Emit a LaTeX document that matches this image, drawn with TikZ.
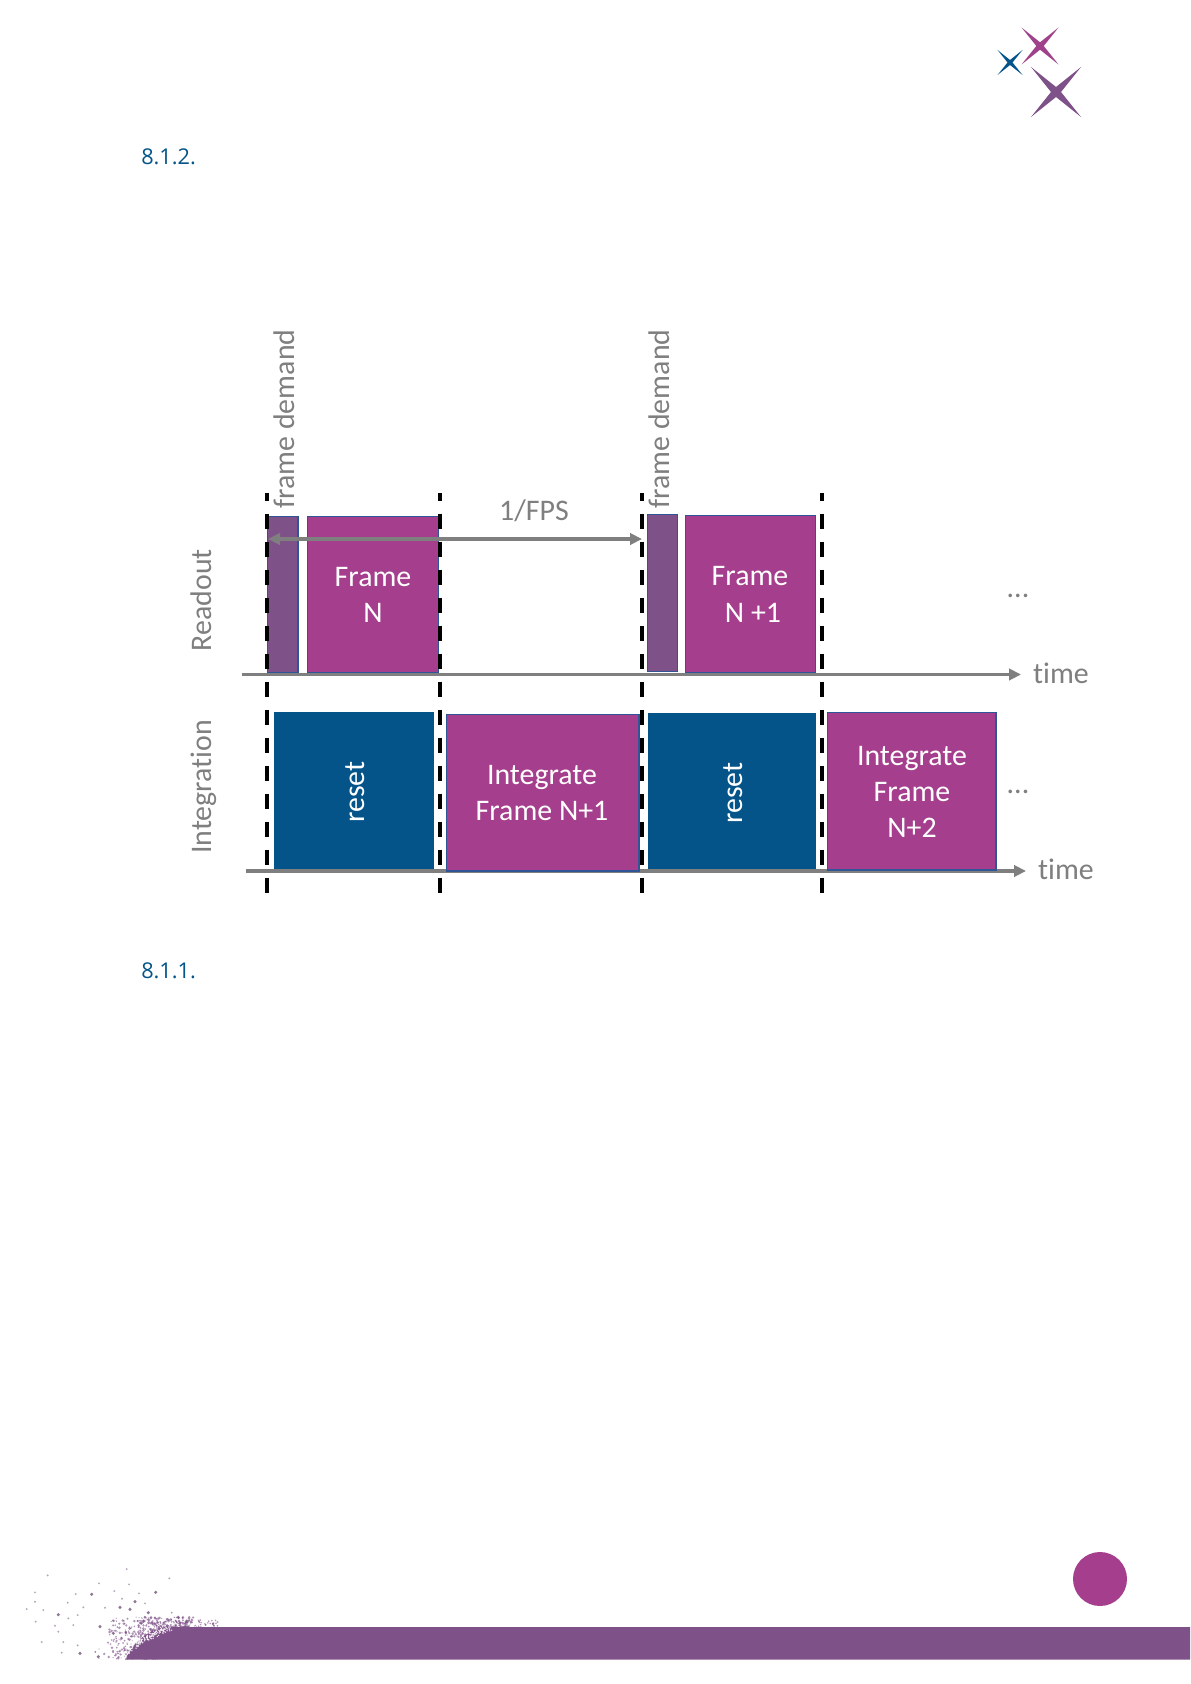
\documentclass[tikz,border=0pt]{standalone}
\usepackage{fontspec}
\setmainfont{Carlito}[Ligatures=CommonOff]
\newfontfamily\headfont{Open Sans}
\usetikzlibrary{arrows.meta}
\definecolor{mag}{HTML}{A53E8C}
\definecolor{plum}{HTML}{7F5189}
\definecolor{navy}{HTML}{04548A}
\definecolor{edgeblue}{HTML}{2F5597}
\definecolor{axisgray}{HTML}{7F7F7F}
\newcommand{\sparkle}[4]{% centre x, y, half extent, colour
  \fill[#4] (#1-#3,#2-#3) -- (#1-0.2*#3,#2) -- (#1-#3,#2+#3) -- (#1,#2+0.2*#3)
    -- (#1+#3,#2+#3) -- (#1+0.2*#3,#2) -- (#1+#3,#2-#3) -- (#1,#2-0.2*#3) -- cycle;}
\tikzset{
  magbox/.style={draw=edgeblue,line width=1pt,fill=mag},
  plumbox/.style={draw=edgeblue,line width=1pt,fill=plum},
  navybox/.style={fill=navy},
  axisline/.style={draw=axisgray,line width=2.6pt,-{Triangle[length=9pt,width=8.5pt]}},
  fpsline/.style={draw=axisgray,line width=2.6pt,{Triangle[length=9pt,width=8.5pt]}-{Triangle[length=9pt,width=8.5pt]}},
  demandline/.style={draw=black,line width=3pt,dash pattern=on 11.7pt off 9.3pt,dash phase=5.5pt},
  boxtext/.style={text=white,font=\fontsize{22.4pt}{27pt}\selectfont,anchor=base},
  graytext/.style={text=axisgray,font=\fontsize{22.4pt}{27pt}\selectfont},
  headtext/.style={text=navy,font=\headfont\fontsize{16.3pt}{20pt}\selectfont,anchor=base west,inner sep=0pt},
}
\begin{document}
\begin{tikzpicture}[x=0.75pt,y=-0.75pt]
\useasboundingbox[fill=white] (0,0) rectangle (1190,1684);
% logo
\sparkle{1040}{46}{18.5}{mag!85!plum}
\sparkle{1010}{62.5}{12.5}{navy}
\sparkle{1056}{92}{25}{plum}
% headings
\node[headtext] (h1) at (141,164.5) {8.1.2.};
\node[headtext] (h2) at (141,978.5) {8.1.1.};
% axes
\coordinate (ax1a) at (241.5,674.5); \coordinate (ax1b) at (1021,674.5);
\coordinate (ax2a) at (246,871); \coordinate (ax2b) at (1026,871);
\draw[axisline] (ax1a) -- (ax1b);
\draw[axisline] (ax2a) -- (ax2b);
% readout boxes
\path[plumbox] (267.7,516.7) rectangle (298,672.3);
\path[magbox] (307.7,516.7) rectangle (438.7,672.3);
\path[plumbox] (647.7,514.5) rectangle (677.7,671.7);
\path[magbox] (685.8,515.3) rectangle (815.3,672.3);
% integration boxes
\path[navybox] (274,712) rectangle (434,869);
\path[magbox] (446.8,714.3) rectangle (639,871);
\path[navybox] (647.7,713) rectangle (816,869);
\path[magbox] (827.8,712.7) rectangle (996,870);
% frame demand lines
\foreach \n/\x in {a/266.8,b/440,c/642,d/822}{
  \coordinate (top\n) at (\x,493);
  \coordinate (bot\n) at (\x,893.3);
  \draw[demandline] (top\n) -- (bot\n);
}
% 1/FPS
\coordinate (fpsa) at (268,539); \coordinate (fpsb) at (642,539);
\draw[fpsline] (fpsa) -- (fpsb);
% box texts
\node[boxtext] (t1a) at (373,586) {Frame};
\node[boxtext] (t1b) at (373,622) {N};
\node[boxtext] (t2a) at (750,585) {Frame};
\node[boxtext] (t2b) at (753,622) {N +1};
\node[boxtext] (t3a) at (542,784) {Integrate};
\node[boxtext] (t3b) at (542,820) {Frame N+1};
\node[boxtext] (t4a) at (912,765) {Integrate};
\node[boxtext] (t4b) at (912,801) {Frame};
\node[boxtext] (t4c) at (912,837) {N+2};
\node[boxtext,rotate=90,anchor=center] (r1) at (355,792) {reset};
\node[boxtext,rotate=90,anchor=center] (r2) at (733,793) {reset};
% grey texts
\node[graytext,rotate=90,anchor=center] (fd1) at (284,419) {frame demand};
\node[graytext,rotate=90,anchor=center] (fd2) at (659,419) {frame demand};
\node[graytext,rotate=90,anchor=center] (ro) at (201,600) {Readout};
\node[graytext,rotate=90,anchor=center] (ig) at (204,787) {Integration};
\node[graytext,anchor=center] (fps) at (534,511) {1/FPS};
\node[graytext,anchor=base] (tm1) at (1061,683) {time};
\node[graytext,anchor=base] (tm2) at (1066,879) {time};
\node[graytext,anchor=base] (el1) at (1018,597) {...};
\node[graytext,anchor=base] (el2) at (1018,793) {...};
% page number disc
\fill[mag] (1100,1579) circle[radius=27];
% spray
\pgfmathsetseed{4242}
\foreach \i in {1,...,650}{
  \pgfmathsetmacro{\py}{1659-42*rnd}
  \pgfmathsetmacro{\px}{90+(1659-\py)*0.45+85*sqrt(rnd)}
  \pgfmathsetmacro{\pr}{0.5+1.0*rnd}
  \fill[plum,opacity=0.6] (\px,\py) circle[radius=\pr];
}
\foreach \i in {1,...,110}{
  \pgfmathsetmacro{\px}{150+68*rnd}
  \pgfmathsetmacro{\py}{1620+8*rnd}
  \fill[plum,opacity=0.6] (\px,\py) circle[radius=0.9];
}
\foreach \a/\b in {275/163,467/157,405/185,175/224,360/202,390/208,445/218,240/340,295/350,535/232,300/260,340/280}{
  \fill[plum!75!black,opacity=0.7] ({\a/3},{1540+\b/3}) circle[radius=1.7];
}
\foreach \a/\b in {143/106,380/87,508/115,297/130,387/133,105/157,105/185,227/162,343/153,417/160,80/207,130/210,203/188,125/306,175/275,185/338,233/316,190/306,107/245,165/257,220/255,233/225,205/235,250/202,315/203,366/176,435/190,515/218}{
  \fill[plum!70!gray,opacity=0.55] ({\a/3},{1540+\b/3}) circle[radius=1.1];
}
% band
\fill[plum] (125,1659.5) .. controls (133,1645) and (145,1630) .. (165,1627)
  -- (1190,1627) -- (1190,1659.5) -- cycle;
\foreach \i in {1,...,160}{
  \pgfmathsetmacro{\tt}{rnd}
  \pgfmathsetmacro{\px}{125+45*\tt-6+8*rnd}
  \pgfmathsetmacro{\py}{1659-33*sqrt(\tt)+5*rnd}
  \fill[white,opacity=0.75] (\px,\py) circle[radius=0.8];
}
\end{tikzpicture}
\end{document}
